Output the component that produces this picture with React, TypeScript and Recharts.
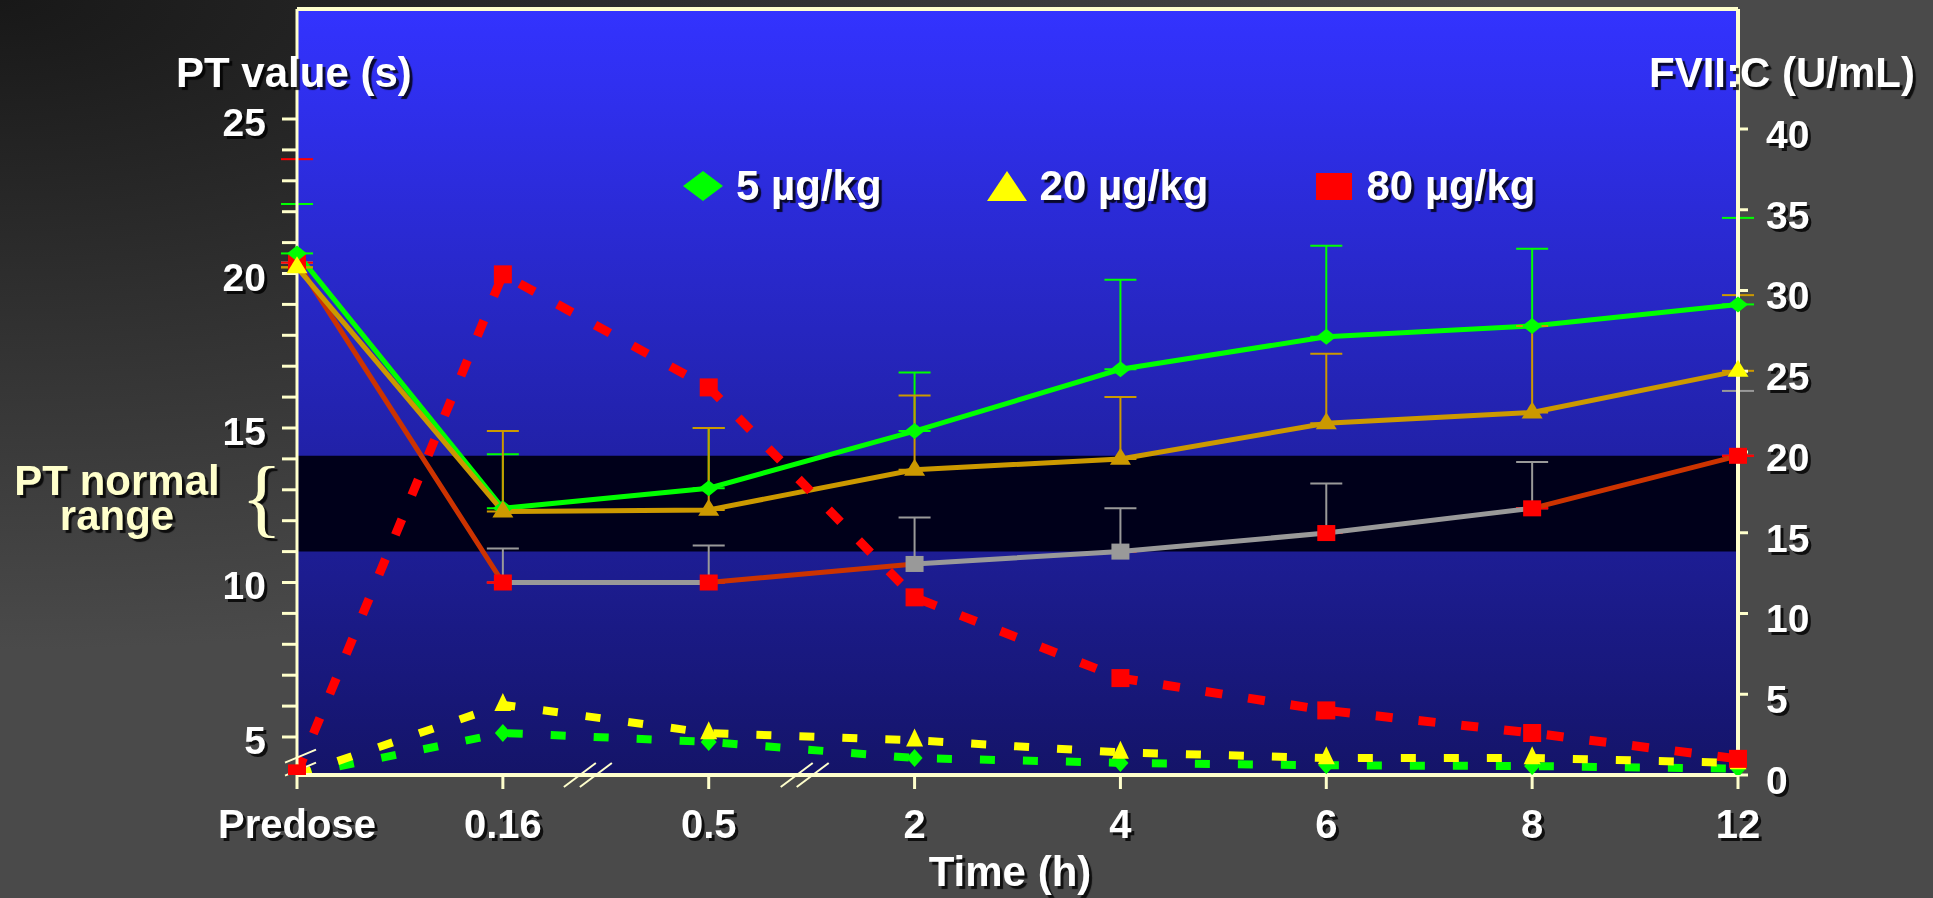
import React from "react";
import {
  LineChart,
  Line,
  XAxis,
  YAxis,
  CartesianGrid,
  ReferenceArea,
  ReferenceLine,
  ReferenceDot,
  ErrorBar,
  Legend,
} from "recharts";

const times = ["Predose", "0.16", "0.5", "2", "4", "6", "8", "12"];

// PT value (s) - left axis, mean and upper SD
const pt5 = [20.65, 12.4, 13.05, 14.9, 16.9, 17.95, 18.3, 19.0];
const pt5Err = [1.6, 1.75, 1.95, 1.9, 2.9, 2.95, 2.5, 2.8];
const pt20 = [20.2, 12.3, 12.35, 13.65, 14.0, 15.15, 15.5, 16.85];
const pt20Err = [0, 2.6, 2.65, 2.4, 2.0, 2.25, 2.8, 2.45];
const pt80 = [20.35, 10.0, 10.0, 10.6, 11.0, 11.6, 12.4, 14.1];
const pt80Err = [3.35, 1.1, 1.2, 1.5, 1.4, 1.6, 1.5, 2.1];

// FVII:C (U/mL) - right axis
const fvii5 = [0, 2.6, 2.05, 1.05, 0.75, 0.6, 0.55, 0.4];
const fvii20 = [0, 4.35, 2.6, 2.15, 1.4, 1.05, 1.05, 0.75];
const fvii80 = [0.1, 31.0, 24.0, 11.0, 6.0, 4.0, 2.6, 1.0];

const ptTicks = [5, 6, 7, 8, 9, 10, 11, 12, 13, 14, 15, 16, 17, 18, 19, 20, 21, 22, 23, 24, 25];
const fviiTicks = [0, 5, 10, 15, 20, 25, 30, 35, 40];
const normalRange = [11, 14.1];

const legendLabels = ["5 µg/kg", "20 µg/kg", "80 µg/kg"];

const PT_DOMAIN: [number, number] = [3.77, 28.56];
const FVII_DOMAIN: [number, number] = [0, 47.43];

const FONT = '"Liberation Sans", Arial, sans-serif';
const CREAM = "#FFFFCC";
const GREEN = "#00FF00";
const GOLD = "#CC9900";
const YELLOW = "#FFFF00";
const RED = "#FF0000";
const RUST = "#CC3300";
const GRAY = "#999999";

// colours of the 80 µg/kg PT line, segment by segment, and of its squares
const pt80Segments = [RUST, GRAY, RUST, GRAY, GRAY, GRAY, RUST];
const pt80Squares = [RED, RED, RED, GRAY, GRAY, RED, RED, RED];
const pt20Triangles = [YELLOW, GOLD, GOLD, GOLD, GOLD, GOLD, GOLD, YELLOW];

const shadowText = (x: number, y: number, text: string, anchor: string, size: number, fill = "#fff") => (
  <g>
    <text x={x + 3} y={y + 3} textAnchor={anchor} fontSize={size} fontWeight="bold" fontFamily={FONT} fill="#000" fillOpacity={0.8}>
      {text}
    </text>
    <text x={x} y={y} textAnchor={anchor} fontSize={size} fontWeight="bold" fontFamily={FONT} fill={fill}>
      {text}
    </text>
  </g>
);

const LeftTick = (props: any) => {
  const { x, y, payload } = props;
  if (payload.value % 5 !== 0) return <g />;
  return shadowText(x, y + 17, String(payload.value), "end", 39);
};

const RightTick = (props: any) => {
  const { x, y, payload } = props;
  return shadowText(x, y + 19, String(payload.value), "start", 39);
};

const BottomTick = (props: any) => {
  const { x, y, payload } = props;
  return shadowText(x, y + 49, String(payload.value), "middle", 40);
};

const diamondDot = (fill: string, w: number, h: number) => (p: any) => {
  const { cx, cy, index } = p;
  if (cx == null || cy == null) return <g key={`e${index}`} />;
  return (
    <polygon key={`d${index}`} points={`${cx},${cy - h} ${cx + w},${cy} ${cx},${cy + h} ${cx - w},${cy}`} fill={fill} />
  );
};

const triangleDot = (fills: string[] | string, w: number, h: number) => (p: any) => {
  const { cx, cy, index } = p;
  if (cx == null || cy == null) return <g key={`e${index}`} />;
  const fill = Array.isArray(fills) ? fills[index] : fills;
  return (
    <polygon
      key={`t${index}`}
      points={`${cx},${cy - h * 0.65} ${cx + w / 2},${cy + h * 0.35} ${cx - w / 2},${cy + h * 0.35}`}
      fill={fill}
    />
  );
};

const squareDot = (fills: string[] | string, w: number, h: number) => (p: any) => {
  const { cx, cy, index } = p;
  if (cx == null || cy == null) return <g key={`e${index}`} />;
  const fill = Array.isArray(fills) ? fills[index] : fills;
  return <rect key={`s${index}`} x={cx - w / 2} y={cy - h / 2} width={w} height={h} fill={fill} />;
};

const breakMark = (offsets: number[]) => (p: any) => {
  const { cx, cy } = p;
  return (
    <g>
      {offsets.map((o) => (
        <line key={o} x1={cx + o - 16} y1={cy + 12} x2={cx + o + 16} y2={cy - 12} stroke={CREAM} strokeWidth={2} />
      ))}
    </g>
  );
};

const yBreakMark = (p: any) => {
  const { cx, cy } = p;
  return (
    <g>
      {[-6.5, 6.5].map((o) => (
        <line key={o} x1={cx - 12} y1={cy + o + 6.5} x2={cx + 19} y2={cy + o - 6.5} stroke={CREAM} strokeWidth={2} />
      ))}
    </g>
  );
};

const LegendMarker = ({ i }: { i: number }) => {
  if (i === 0)
    return (
      <svg width={42} height={32}>
        <polygon points="21,1 41,16 21,31 1,16" fill={GREEN} />
      </svg>
    );
  if (i === 1)
    return (
      <svg width={42} height={32}>
        <polygon points="21,1 41,31 1,31" fill={YELLOW} />
      </svg>
    );
  return (
    <svg width={42} height={32}>
      <rect x={3} y={3} width={36} height={27} fill={RED} />
    </svg>
  );
};

const renderLegend = () => (
  <div style={{ display: "flex", alignItems: "center" }}>
    {legendLabels.map((label, i) => (
      <div key={label} style={{ display: "flex", alignItems: "center", marginRight: i < 2 ? 104 : 0 }}>
        <LegendMarker i={i} />
        <span
          style={{
            marginLeft: 12,
            fontFamily: FONT,
            fontWeight: "bold",
            fontSize: 42,
            lineHeight: "42px",
            color: "#fff",
            textShadow: "3px 3px 1px rgba(0,0,0,0.8)",
          }}
        >
          {label}
        </span>
      </div>
    ))}
  </div>
);

const overlayText: React.CSSProperties = {
  position: "absolute",
  fontFamily: FONT,
  fontWeight: "bold",
  fontSize: 42,
  lineHeight: "42px",
  color: "#fff",
  whiteSpace: "nowrap",
  textShadow: "3px 3px 1px rgba(0,0,0,0.8)",
};

export default function App() {
  const data = times.map((t, i) => ({
    time: t,
    pt5: pt5[i],
    pt5Err: [0, pt5Err[i]],
    pt20: pt20[i],
    pt20Err: [0, pt20Err[i]],
    pt80: pt80[i],
    pt80ErrRed: [0, i === 0 ? pt80Err[i] : 0],
    pt80ErrGray: [0, i === 0 ? 0 : pt80Err[i]],
    fvii5: fvii5[i],
    fvii20: fvii20[i],
    fvii80: fvii80[i],
  }));

  const n = pt80Segments.length;

  return (
    <div
      style={{
        position: "fixed",
        left: 0,
        top: 0,
        width: 1933,
        height: 898,
        overflow: "hidden",
        background: "radial-gradient(ellipse 1500px 650px at 0 0, #181818 0%, #4a4a4a 100%)",
      }}
    >
      <LineChart width={1933} height={898} data={data} margin={{ top: 9, right: 0, bottom: 0, left: 0 }}>
        <defs>
          <linearGradient id="plotBg" x1="0" y1="0" x2="0" y2="1">
            <stop offset="0%" stopColor="#3333FF" />
            <stop offset="100%" stopColor="#141468" />
          </linearGradient>
          <linearGradient id="pt80Stroke" x1="0" y1="0" x2="1" y2="0">
            {pt80Segments.map((c, k) => [
              <stop key={`a${k}`} offset={`${(k / n) * 100}%`} stopColor={c} />,
              <stop key={`b${k}`} offset={`${((k + 1) / n) * 100}%`} stopColor={c} />,
            ])}
          </linearGradient>
        </defs>
        <CartesianGrid yAxisId="left" fill="url(#plotBg)" horizontal={false} vertical={false} stroke="none" />
        <XAxis
          dataKey="time"
          height={123}
          interval={0}
          tickSize={14}
          tickMargin={0}
          tick={<BottomTick />}
          tickLine={{ stroke: CREAM, strokeWidth: 3 }}
          axisLine={{ stroke: CREAM, strokeWidth: 4 }}
        />
        <YAxis
          yAxisId="left"
          orientation="left"
          width={297}
          domain={PT_DOMAIN}
          allowDataOverflow
          ticks={ptTicks}
          interval={0}
          tickSize={15}
          tickMargin={16}
          tick={<LeftTick />}
          tickLine={{ stroke: CREAM, strokeWidth: 3 }}
          axisLine={{ stroke: CREAM, strokeWidth: 3 }}
        />
        <YAxis
          yAxisId="right"
          orientation="right"
          width={195}
          domain={FVII_DOMAIN}
          allowDataOverflow
          ticks={fviiTicks}
          interval={0}
          tickSize={10}
          tickMargin={18}
          tick={<RightTick />}
          tickLine={{ stroke: CREAM, strokeWidth: 3 }}
          axisLine={{ stroke: CREAM, strokeWidth: 4 }}
        />
        <ReferenceArea yAxisId="left" y1={normalRange[0]} y2={normalRange[1]} fill="#00001A" fillOpacity={1} stroke="none" />
        <ReferenceLine yAxisId="left" y={PT_DOMAIN[1]} stroke={CREAM} strokeWidth={4} />
        <ReferenceDot yAxisId="left" x="0.16" y={PT_DOMAIN[0]} shape={breakMark([77, 93])} />
        <ReferenceDot yAxisId="left" x="0.5" y={PT_DOMAIN[0]} shape={breakMark([88, 104])} />
        <ReferenceDot yAxisId="left" x="Predose" y={4.17} shape={yBreakMark} />

        <Line
          yAxisId="left"
          dataKey="pt80"
          stroke="url(#pt80Stroke)"
          strokeWidth={5}
          dot={squareDot(pt80Squares, 18, 16)}
          isAnimationActive={false}
        >
          <ErrorBar dataKey="pt80ErrGray" direction="y" width={16} stroke={GRAY} strokeWidth={2} />
          <ErrorBar dataKey="pt80ErrRed" direction="y" width={16} stroke={RED} strokeWidth={2} />
        </Line>
        <Line
          yAxisId="left"
          dataKey="pt5"
          stroke={GREEN}
          strokeWidth={5}
          dot={diamondDot(GREEN, 10, 8)}
          isAnimationActive={false}
        >
          <ErrorBar dataKey="pt5Err" direction="y" width={16} stroke={GREEN} strokeWidth={2} />
        </Line>
        <Line
          yAxisId="left"
          dataKey="pt20"
          stroke={GOLD}
          strokeWidth={5}
          dot={triangleDot(pt20Triangles, 21, 17)}
          isAnimationActive={false}
        >
          <ErrorBar dataKey="pt20Err" direction="y" width={16} stroke={GOLD} strokeWidth={2} />
        </Line>

        <Line
          yAxisId="right"
          dataKey="fvii5"
          stroke={GREEN}
          strokeWidth={8}
          strokeDasharray="15 28"
          dot={diamondDot(GREEN, 8, 9)}
          isAnimationActive={false}
        />
        <Line
          yAxisId="right"
          dataKey="fvii20"
          stroke={YELLOW}
          strokeWidth={8}
          strokeDasharray="15 28"
          dot={triangleDot(YELLOW, 17, 18)}
          isAnimationActive={false}
        />
        <Line
          yAxisId="right"
          dataKey="fvii80"
          stroke={RED}
          strokeWidth={9}
          strokeDasharray="17 26"
          dot={squareDot(RED, 18, 18)}
          isAnimationActive={false}
        />
        <Legend
          layout="horizontal"
          verticalAlign="middle"
          align="center"
          content={renderLegend}
          wrapperStyle={{ left: 682, top: 165, width: 1000, height: 42 }}
        />
      </LineChart>

      <div style={{ ...overlayText, left: 176, top: 52 }}>PT value (s)</div>
      <div style={{ ...overlayText, left: 1649, top: 52 }}>FVII:C (U/mL)</div>
      <div style={{ ...overlayText, left: 1010, top: 851, transform: "translateX(-50%)" }}>Time (h)</div>
      <div style={{ ...overlayText, left: 0, width: 234, top: 463, lineHeight: "35px", textAlign: "center", color: CREAM }}>
        PT normal
      </div>
      <div style={{ ...overlayText, left: 0, width: 234, top: 498, lineHeight: "35px", textAlign: "center", color: CREAM }}>
        range
      </div>
      <div
        style={{
          ...overlayText,
          left: 241,
          top: 467,
          fontFamily: '"Liberation Serif", "Times New Roman", serif',
          fontWeight: "normal",
          fontSize: 86,
          lineHeight: "60px",
          color: CREAM,
        }}
      >
        {"{"}
      </div>
    </div>
  );
}
